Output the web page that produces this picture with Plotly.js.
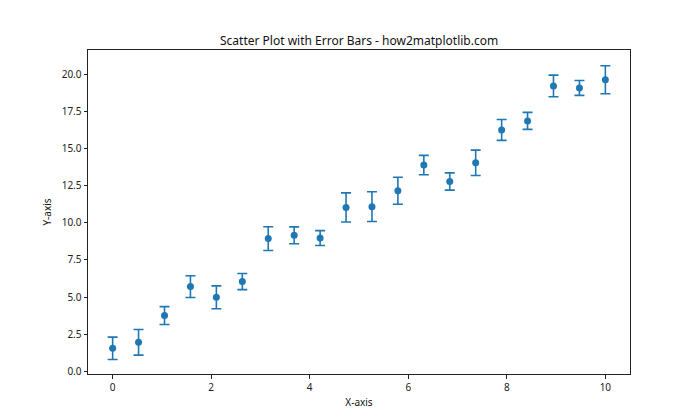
<!DOCTYPE html>
<html>
<head>
<meta charset="utf-8">
<script src="https://cdn.plot.ly/plotly-3.0.1.min.js"></script>
<style>html,body{margin:0;padding:0;background:#fff;}#chart{width:700px;height:420px;}</style>
</head>
<body>
<div id="chart"></div>
<script>
var xValues = [0, 0.526, 1.053, 1.579, 2.105, 2.632, 3.158, 3.684, 4.211, 4.737, 5.263, 5.789, 6.316, 6.842, 7.368, 7.895, 8.421, 8.947, 9.474, 10];
var yValues = [1.55, 1.95, 3.75, 5.7, 4.98, 6.04, 8.93, 9.15, 8.97, 11.03, 11.08, 12.15, 13.88, 12.77, 14.03, 16.24, 16.85, 19.2, 19.07, 19.62];
var yErrors = [0.75, 0.86, 0.6, 0.73, 0.77, 0.54, 0.8, 0.57, 0.5, 0.98, 1.0, 0.91, 0.65, 0.58, 0.85, 0.7, 0.57, 0.73, 0.5, 0.94];
var xTicks = [0, 2, 4, 6, 8, 10];
var yTicks = [0, 2.5, 5, 7.5, 10, 12.5, 15, 17.5, 20];

var font = "'Noto Sans', 'Open Sans', sans-serif";
var trace = {
  x: xValues, y: yValues, type: 'scatter', mode: 'markers',
  marker: {color: '#1f77b4', size: 7},
  error_y: {type: 'data', array: yErrors, visible: true, color: '#1f77b4', thickness: 1.6, width: 5},
  hoverinfo: 'none'
};
var axisCommon = {
  showgrid: false, zeroline: false, showline: true, mirror: true,
  linecolor: '#222', linewidth: 1, ticks: 'outside', ticklen: 3.5, tickwidth: 1, tickcolor: '#222',
  tickfont: {family: font, size: 10, color: '#222'}
};
var layout = {
  width: 700, height: 420,
  margin: {l: 88, r: 70, t: 50, b: 46},
  paper_bgcolor: '#fff', plot_bgcolor: '#fff',
  showlegend: false,
  title: {text: 'Scatter Plot with Error Bars - how2matplotlib.com', font: {family: font, size: 12, color: '#111'}, x: 0.513, xanchor: 'center', xref: 'container', y: 0.893, yanchor: 'bottom', yref: 'container'},
  xaxis: Object.assign({}, axisCommon, {range: [-0.5, 10.5], tickvals: xTicks, ticktext: xTicks.map(String),
    title: {text: 'X-axis', font: {family: font, size: 10, color: '#111'}, standoff: 6}}),
  yaxis: Object.assign({}, axisCommon, {range: [-0.18, 21.62], tickvals: yTicks, ticktext: yTicks.map(function(v){return v.toFixed(1);}),
    title: {text: 'Y-axis', font: {family: font, size: 10, color: '#111'}, standoff: 8}})
};
Plotly.newPlot('chart', [trace], layout, {displayModeBar: false, staticPlot: true});
</script>
</body>
</html>
